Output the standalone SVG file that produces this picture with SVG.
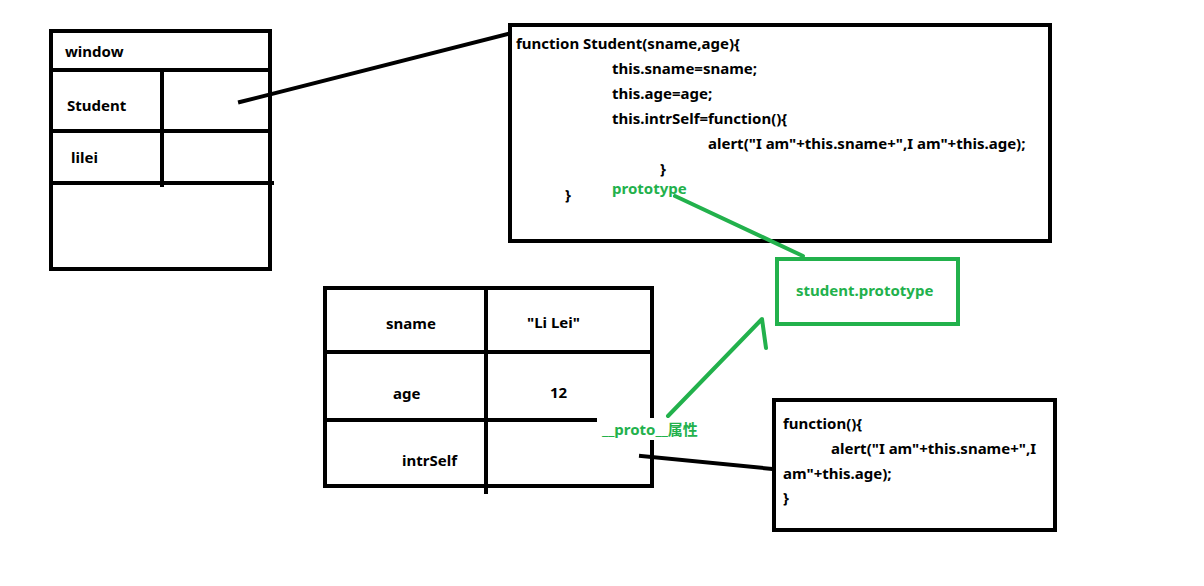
<svg xmlns="http://www.w3.org/2000/svg" width="1204" height="586" viewBox="0 0 1204 586">
<style>
.ln{stroke:#000;stroke-width:4;fill:none;stroke-linecap:square}
.gl{stroke:#22b14c;stroke-width:4;fill:none;stroke-linecap:round;stroke-linejoin:round}
text{font-family:"Noto Sans","Liberation Sans","Noto Sans CJK SC",sans-serif;font-size:15px;font-weight:bold;fill:#000}
.g{fill:#22b14c}
</style>
<rect width="1204" height="586" fill="#fff"/>
<g id="window">
<rect class="ln" x="51" y="31" width="219" height="238"/>
<line class="ln" x1="51" y1="70" x2="270" y2="70"/>
<line class="ln" x1="51" y1="131" x2="270" y2="131"/>
<line class="ln" x1="51" y1="183" x2="272" y2="183"/>
<line class="ln" x1="162" y1="70" x2="162" y2="185"/>
<text x="65" y="57">window</text>
<text x="67" y="111">Student</text>
<text x="71" y="163">lilei</text>
</g>
<g id="student-function">
<rect class="ln" x="510" y="25" width="540" height="216"/>
<text x="516" y="49">function Student(sname,age){</text>
<text x="612" y="74">this.sname=sname;</text>
<text x="612" y="99">this.age=age;</text>
<text x="612" y="124">this.intrSelf=function(){</text>
<text x="708" y="149">alert("I am"+this.sname+",I am"+this.age);</text>
<text x="660" y="174">}</text>
<text x="565" y="200">}</text>
<text class="g" x="612" y="194">prototype</text>
</g>
<g id="student-prototype">
<rect x="777" y="259" width="181" height="65" fill="none" stroke="#22b14c" stroke-width="4"/>
<text class="g" x="796" y="296">student.prototype</text>
</g>
<g id="lilei-object">
<rect class="ln" x="325" y="288" width="327" height="198"/>
<line class="ln" x1="325" y1="352" x2="652" y2="352"/>
<line class="ln" x1="325" y1="420" x2="595" y2="420"/>
<line class="ln" x1="486" y1="288" x2="486" y2="492"/>
<text x="386" y="329">sname</text>
<text x="527" y="328">"Li Lei"</text>
<text x="393" y="399">age</text>
<text x="550" y="398">12</text>
<text x="402" y="466">intrSelf</text>
</g>
<g id="intrself-function">
<rect class="ln" x="774" y="400" width="281" height="130"/>
<text x="783" y="429">function(){</text>
<text x="831" y="454">alert("I am"+this.sname+",I</text>
<text x="783" y="479">am"+this.age);</text>
<text x="783" y="503">}</text>
</g>
<g id="connectors">
<line class="ln" x1="240" y1="102" x2="508" y2="34" stroke-width="5"/>
<line class="gl" x1="675" y1="196" x2="803" y2="256"/>
<polyline class="gl" points="668,416 762,319 766,348"/>
<line class="ln" x1="641" y1="456" x2="773" y2="469"/>
</g>
<g id="proto-label">
<rect x="598" y="418" width="110" height="22" fill="#fff"/>
<text class="g" x="602" y="435">__proto__属性</text>
</g>
</svg>
